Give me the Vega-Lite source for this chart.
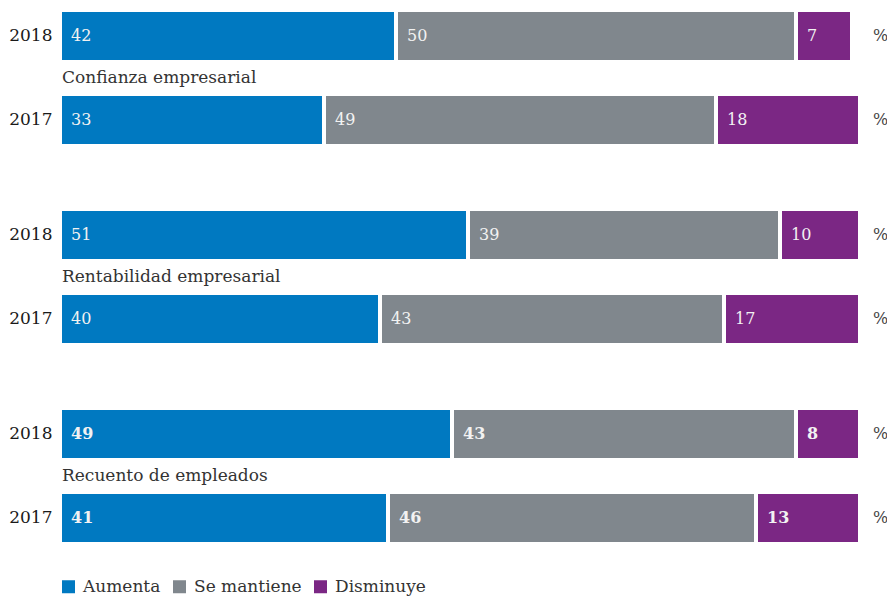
{
  "$schema": "https://vega.github.io/schema/vega-lite/v6.json",
  "background": "white",
  "padding": {"left": 5, "top": 12, "right": 5, "bottom": 5},
  "config": {
    "font": "DejaVu Serif",
    "view": {"stroke": null},
    "facet": {"spacing": 67}
  },
  "data": {
    "values": [
      {"grupo": "Confianza empresarial", "anio": "2018", "cat": "Aumenta", "n": 1, "v": 42},
      {"grupo": "Confianza empresarial", "anio": "2018", "cat": "Se mantiene", "n": 2, "v": 50},
      {"grupo": "Confianza empresarial", "anio": "2018", "cat": "Disminuye", "n": 3, "v": 7},
      {"grupo": "Confianza empresarial", "anio": "2017", "cat": "Aumenta", "n": 1, "v": 33},
      {"grupo": "Confianza empresarial", "anio": "2017", "cat": "Se mantiene", "n": 2, "v": 49},
      {"grupo": "Confianza empresarial", "anio": "2017", "cat": "Disminuye", "n": 3, "v": 18},
      {"grupo": "Rentabilidad empresarial", "anio": "2018", "cat": "Aumenta", "n": 1, "v": 51},
      {"grupo": "Rentabilidad empresarial", "anio": "2018", "cat": "Se mantiene", "n": 2, "v": 39},
      {"grupo": "Rentabilidad empresarial", "anio": "2018", "cat": "Disminuye", "n": 3, "v": 10},
      {"grupo": "Rentabilidad empresarial", "anio": "2017", "cat": "Aumenta", "n": 1, "v": 40},
      {"grupo": "Rentabilidad empresarial", "anio": "2017", "cat": "Se mantiene", "n": 2, "v": 43},
      {"grupo": "Rentabilidad empresarial", "anio": "2017", "cat": "Disminuye", "n": 3, "v": 17},
      {"grupo": "Recuento de empleados", "anio": "2018", "cat": "Aumenta", "n": 1, "v": 49},
      {"grupo": "Recuento de empleados", "anio": "2018", "cat": "Se mantiene", "n": 2, "v": 43},
      {"grupo": "Recuento de empleados", "anio": "2018", "cat": "Disminuye", "n": 3, "v": 8},
      {"grupo": "Recuento de empleados", "anio": "2017", "cat": "Aumenta", "n": 1, "v": 41},
      {"grupo": "Recuento de empleados", "anio": "2017", "cat": "Se mantiene", "n": 2, "v": 46},
      {"grupo": "Recuento de empleados", "anio": "2017", "cat": "Disminuye", "n": 3, "v": 13}
    ]
  },
  "transform": [
    {"stack": "v", "groupby": ["grupo", "anio"], "sort": [{"field": "n", "order": "ascending"}], "as": ["x0", "x1"]}
  ],
  "facet": {
    "row": {
      "field": "grupo",
      "type": "nominal",
      "sort": ["Confianza empresarial", "Rentabilidad empresarial", "Recuento de empleados"],
      "header": null
    }
  },
  "spec": {
    "width": 800,
    "height": 132,
    "encoding": {
      "y": {
        "field": "anio",
        "type": "nominal",
        "scale": {"domain": ["2018", "2017"], "paddingInner": 0.4286, "paddingOuter": 0},
        "axis": {
          "title": null,
          "domain": false,
          "ticks": false,
          "grid": false,
          "labelFontSize": 17,
          "labelColor": "#1a1a1a",
          "labelPadding": 8,
          "minExtent": 55,
          "maxExtent": 55
        }
      }
    },
    "layer": [
      {
        "mark": {"type": "bar", "xOffset": 2, "x2Offset": -2},
        "encoding": {
          "x": {"field": "x0", "type": "quantitative", "scale": {"domain": [0, 100], "nice": false}, "axis": null},
          "x2": {"field": "x1"},
          "color": {
            "field": "cat",
            "type": "nominal",
            "scale": {"domain": ["Aumenta", "Se mantiene", "Disminuye"], "range": ["#0079c1", "#80878d", "#7b2784"]},
            "legend": {
              "title": null,
              "orient": "bottom",
              "direction": "horizontal",
              "symbolType": "square",
              "symbolSize": 169,
              "symbolStrokeWidth": 0,
              "labelFontSize": 17,
              "labelColor": "#333333",
              "labelOffset": 6,
              "columnPadding": 10,
              "offset": 36
            }
          }
        }
      },
      {
        "transform": [{"filter": "datum.grupo !== 'Recuento de empleados'"}],
        "mark": {"type": "text", "align": "left", "baseline": "middle", "dx": 11, "fontSize": 16, "color": "#f2f2f2"},
        "encoding": {
          "x": {"field": "x0", "type": "quantitative"},
          "text": {"field": "v", "type": "quantitative"}
        }
      },
      {
        "transform": [{"filter": "datum.grupo === 'Recuento de empleados'"}],
        "mark": {"type": "text", "align": "left", "baseline": "middle", "dx": 11, "fontSize": 16, "fontWeight": "bold", "color": "#f2f2f2"},
        "encoding": {
          "x": {"field": "x0", "type": "quantitative"},
          "text": {"field": "v", "type": "quantitative"}
        }
      },
      {
        "transform": [{"filter": "datum.n === 1 && datum.anio === '2017'"}],
        "mark": {"type": "text", "align": "left", "baseline": "middle", "dx": 2, "dy": -42, "fontSize": 17, "color": "#333333"},
        "encoding": {
          "x": {"datum": 0, "type": "quantitative"},
          "text": {"field": "grupo", "type": "nominal"}
        }
      },
      {
        "transform": [{"filter": "datum.n === 1"}],
        "mark": {"type": "text", "align": "left", "baseline": "middle", "dx": 13, "fontSize": 16, "color": "#444444"},
        "encoding": {
          "x": {"datum": 100, "type": "quantitative"},
          "text": {"value": "%"}
        }
      }
    ]
  }
}
